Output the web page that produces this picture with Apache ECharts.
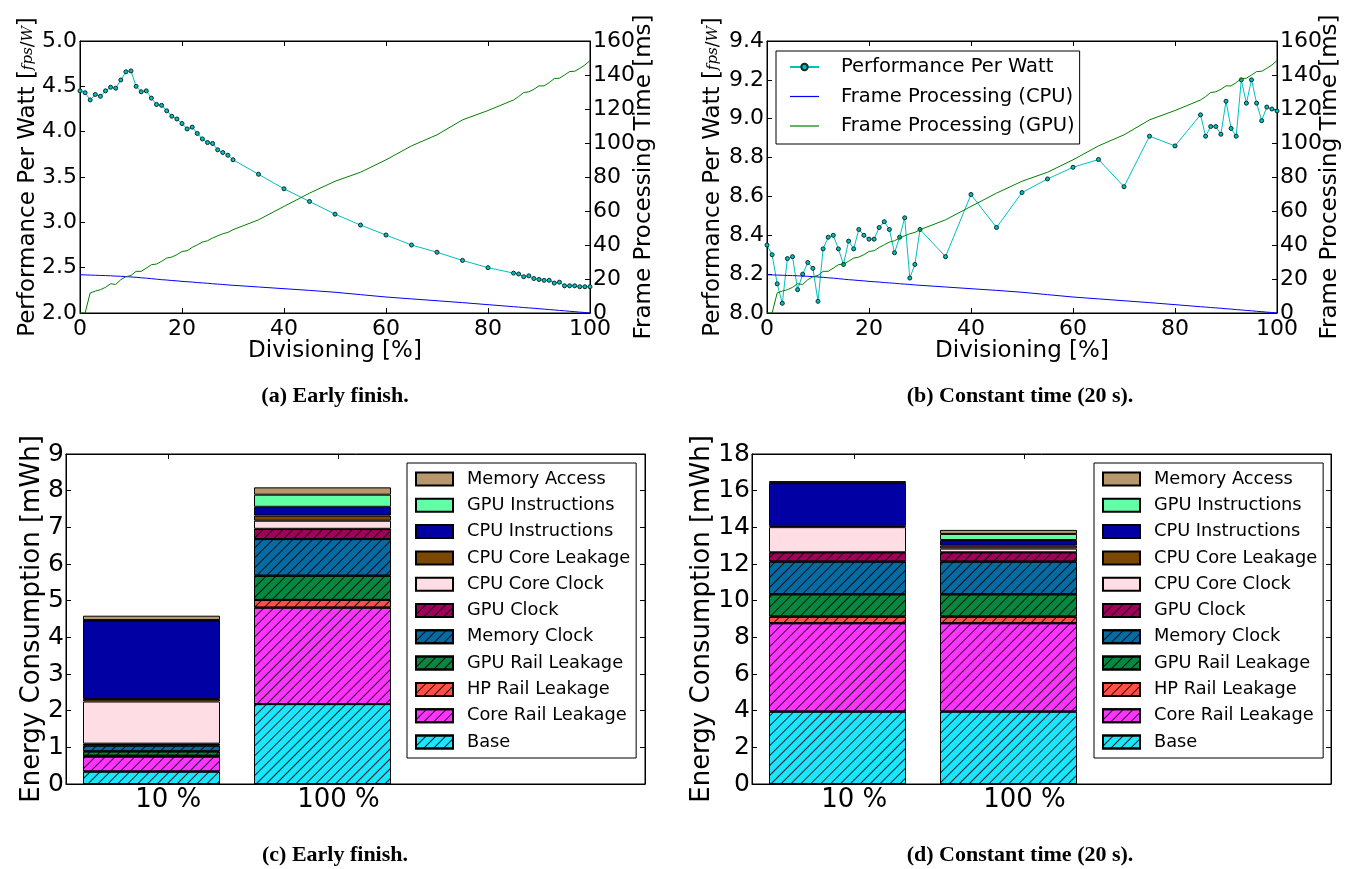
<!DOCTYPE html>
<html>
<head>
<meta charset="utf-8">
<script src="https://cdn.jsdelivr.net/npm/echarts@6/dist/echarts.min.js"></script>
<style>
  html, body { margin: 0; padding: 0; background: #fff; }
  #chart { width: 1346px; height: 869px; }
</style>
</head>
<body>
<div id="chart"></div>
<script>
// ---- measured data -------------------------------------------------------
// Divisioning steps [%] used by every run
const divisioning = [0, 1, 2, 3, 4, 5, 6, 7, 8, 9, 10, 11, 12, 13, 14, 15, 16, 17, 18, 19, 20,
  21, 22, 23, 24, 25, 26, 27, 28, 29, 30, 35, 40, 45, 50, 55, 60, 65, 70, 75, 80,
  85, 86, 87, 88, 89, 90, 91, 92, 93, 94, 95, 96, 97, 98, 99, 100];

// Performance per watt [fps/W], early-finish runs
const perfEarlyFinish = [4.45, 4.43, 4.35, 4.41, 4.39, 4.45, 4.49, 4.48, 4.57, 4.66, 4.67,
  4.50, 4.44, 4.45, 4.37, 4.30, 4.29, 4.23, 4.17, 4.14, 4.09,
  4.03, 4.05, 3.98, 3.92, 3.88, 3.87, 3.80, 3.77, 3.74, 3.69,
  3.53, 3.37, 3.23, 3.09, 2.97, 2.86, 2.75, 2.67, 2.58, 2.50,
  2.44, 2.43, 2.40, 2.41, 2.38, 2.37, 2.36, 2.36, 2.33, 2.34, 2.30, 2.30, 2.30, 2.29, 2.29, 2.29];

// Performance per watt [fps/W], constant-time (20 s) runs
const perfConstantTime = [8.35, 8.30, 8.15, 8.05, 8.28, 8.29, 8.12, 8.20, 8.26, 8.23, 8.06,
  8.33, 8.39, 8.40, 8.33, 8.25, 8.37, 8.33, 8.43, 8.40, 8.38,
  8.38, 8.44, 8.47, 8.43, 8.31, 8.39, 8.49, 8.18, 8.25, 8.43,
  8.29, 8.61, 8.44, 8.62, 8.69, 8.75, 8.79, 8.65, 8.91, 8.86,
  9.02, 8.91, 8.96, 8.96, 8.92, 9.09, 8.95, 8.91, 9.20, 9.08, 9.20, 9.08, 8.99, 9.06, 9.05, 9.04];

// Frame processing time on the CPU [ms]
const frameCpuMs = [22.5, 22.4, 22.3, 22.2, 22.1, 22.0, 21.9, 21.7, 21.6, 21.4, 21.2,
  21.0, 20.7, 20.5, 20.2, 19.9, 19.6, 19.4, 19.1, 18.9, 18.6,
  18.4, 18.2, 17.9, 17.7, 17.5, 17.2, 17.0, 16.8, 16.5, 16.3,
  15.3, 14.3, 13.3, 12.2, 10.8, 9.4, 8.3, 7.2, 6.1, 4.9,
  3.7, 3.5, 3.2, 3.0, 2.8, 2.5, 2.3, 2.0, 1.8, 1.5, 1.3, 1.0, 0.8, 0.5, 0.3, 0.0];

// Frame processing time on the GPU [ms]
const frameGpuMs = [0.0, 0.0, 11.8, 12.9, 13.7, 15.1, 17.2, 16.8, 19.6, 21.3, 22.1,
  24.5, 24.5, 26.4, 28.4, 28.8, 30.4, 32.3, 32.9, 34.3, 36.2,
  36.6, 38.6, 40.1, 41.7, 42.5, 44.1, 45.4, 46.6, 47.4, 49.0,
  54.8, 62.7, 70.5, 77.5, 82.8, 90.1, 98.3, 104.8, 113.6, 119.1,
  125.3, 127.3, 129.7, 130.1, 131.6, 133.6, 133.6, 135.5, 137.9, 138.1, 140.0, 142.0, 142.2, 143.9, 145.9, 148.5];

// Energy breakdown [mWh]
const barCategories = ['10 %', '100 %'];
// stacking order, bottom to top
const componentNames = ['Base', 'Core Rail Leakage', 'HP Rail Leakage', 'GPU Rail Leakage',
  'Memory Clock', 'GPU Clock', 'CPU Core Clock', 'CPU Core Leakage',
  'CPU Instructions', 'GPU Instructions', 'Memory Access'];
const earlyFinish10 = [0.34, 0.41, 0.02, 0.12, 0.16, 0.05, 1.15, 0.07, 2.14, 0.01, 0.12];
const earlyFinish100 = [2.18, 2.63, 0.21, 0.66, 1.00, 0.28, 0.22, 0.14, 0.24, 0.33, 0.20];
const constantTime10 = [3.95, 4.82, 0.36, 1.22, 1.78, 0.51, 1.37, 0.07, 2.33, 0.03, 0.08];
const constantTime100 = [3.95, 4.82, 0.36, 1.22, 1.78, 0.51, 0.20, 0.16, 0.31, 0.33, 0.22];

// ---- styling ---------------------------------------------------------------
const FONT = 'DejaVu Sans';
const componentColors = ['#1be6ff', '#ff33ff', '#ff4f47', '#07873f', '#066aa3', '#a1005a',
  '#ffdde4', '#7a4800', '#0000a3', '#63ffa6', '#b8986a'];
const componentHatched = [true, true, true, true, true, true, false, false, false, false, false];

const hatch = {
  symbol: 'rect', symbolSize: 1, color: 'rgba(0,0,0,0.85)',
  dashArrayX: [1, 0], dashArrayY: [1, 5.5], rotation: -Math.PI / 4
};

const tick = { show: true, inside: true, length: 5, lineStyle: { color: '#000', width: 1 } };
const axisLine = { show: true, onZero: false, lineStyle: { color: '#000', width: 1 } };
const noSplit = { show: false };

function pairs(xs, ys) { return xs.map((x, i) => [x, ys[i]]); }

function lineAxesX(grid) {
  return [
    { gridIndex: grid, type: 'value', min: 0, max: 100, interval: 20, position: 'bottom',
      axisLine, axisTick: tick, splitLine: noSplit,
      axisLabel: { fontSize: 22, fontFamily: FONT, color: '#000', margin: 5 },
      name: 'Divisioning [%]', nameLocation: 'middle', nameGap: 27, nameMoveOverlap: false,
      nameTextStyle: { fontSize: 23, fontFamily: FONT, color: '#000' } },
    { gridIndex: grid, type: 'value', min: 0, max: 100, interval: 20, position: 'top',
      axisLine, axisTick: tick, splitLine: noSplit, axisLabel: { show: false } }
  ];
}

function frameAxis(grid, gap) {
  return { gridIndex: grid, type: 'value', min: 0, max: 160, interval: 20, position: 'right',
    axisLine, axisTick: tick, splitLine: noSplit,
    axisLabel: { fontSize: 22, fontFamily: FONT, color: '#000', margin: 3 },
    name: 'Frame Processing Time [ms]', nameLocation: 'middle', nameGap: gap, nameMoveOverlap: false,
    nameTextStyle: { fontSize: 23, fontFamily: FONT, color: '#000' } };
}

const ppwName = 'Performance Per Watt [{f|fps}{s|/}{f|W}]';
const ppwNameStyle = { fontSize: 23, fontFamily: FONT, color: '#000',
  rich: { f: { fontSize: 15, fontStyle: 'italic', fontFamily: 'DejaVu Serif', color: '#000' },
          s: { fontSize: 17, fontFamily: FONT, color: '#000' } } };

function ppwAxis(grid, min, max, interval, gap) {
  return { gridIndex: grid, type: 'value', min, max, interval, position: 'left',
    axisLine, axisTick: tick, splitLine: noSplit,
    axisLabel: { fontSize: 22, fontFamily: FONT, color: '#000', margin: 3,
      formatter: v => v.toFixed(1) },
    name: ppwName, nameLocation: 'middle', nameGap: gap, nameMoveOverlap: false,
    nameTextStyle: ppwNameStyle };
}

// frame of an energy panel: spines, ticks and category labels
function barFrameAxesX(grid) {
  const labelAt = [0.1, 1.1];
  return [
    { gridIndex: grid, type: 'value', min: -0.5, max: 2.9, position: 'bottom',
      axisLine, splitLine: noSplit,
      axisTick: Object.assign({ customValues: labelAt }, tick),
      axisLabel: { customValues: labelAt, fontSize: 26, fontFamily: FONT, color: '#000', margin: 3,
        formatter: v => barCategories[Math.round(v - 0.1)] } },
    { gridIndex: grid, type: 'value', min: -0.5, max: 2.9, position: 'top',
      axisLine, splitLine: noSplit,
      axisTick: Object.assign({ customValues: labelAt }, tick),
      axisLabel: { show: false } }
  ];
}

function energyAxesY(grid, max, interval, gap) {
  return [
    { gridIndex: grid, type: 'value', min: 0, max, interval, position: 'left',
      axisLine, axisTick: tick, splitLine: noSplit,
      axisLabel: { fontSize: 25, fontFamily: FONT, color: '#000', margin: 2 },
      name: 'Energy Consumption [mWh]', nameLocation: 'middle', nameGap: gap, nameMoveOverlap: false,
      nameTextStyle: { fontSize: 26, fontFamily: FONT, color: '#000' } },
    { gridIndex: grid, type: 'value', min: 0, max, interval, position: 'right',
      axisLine, axisTick: tick, splitLine: noSplit, axisLabel: { show: false } }
  ];
}

function perfSeries(values, xi, yi) {
  return { type: 'line', name: 'Performance Per Watt', xAxisIndex: xi, yAxisIndex: yi,
    data: pairs(divisioning, values), symbol: 'circle', symbolSize: 4, showSymbol: true,
    lineStyle: { color: '#00bfbf', width: 1 },
    itemStyle: { color: '#00bfbf', borderColor: '#0a2a2a', borderWidth: 1 }, z: 3 };
}
function frameSeries(name, values, color, xi, yi) {
  return { type: 'line', name, xAxisIndex: xi, yAxisIndex: yi,
    data: pairs(divisioning, values), symbol: 'none', showSymbol: false,
    lineStyle: { color, width: 1 }, itemStyle: { color }, z: 4 };
}
function energySeries(values10, values100, xi, yi) {
  return componentNames.map((name, k) => ({
    type: 'bar', name, stack: 'energy' + xi, xAxisIndex: xi, yAxisIndex: yi,
    barWidth: 137,
    data: [values10[k], values100[k]],
    itemStyle: { color: componentColors[k], borderColor: '#000', borderWidth: 1,
      decal: componentHatched[k] ? hatch : null }
  }));
}

function barLegend(left) {
  return { data: componentNames.slice().reverse(), orient: 'vertical', left, top: 463,
    padding: [7, 6, 7, 8], itemWidth: 37, itemHeight: 13, itemGap: 8.3,
    borderColor: '#000', borderWidth: 1, borderRadius: 0, backgroundColor: '#fff',
    selectedMode: false, icon: 'rect',
    textStyle: { fontSize: 17.8, lineHeight: 17.2, fontFamily: FONT, color: '#000', padding: [0, 0, 0, 9] } };
}

const captionFont = 'bold 22px "Liberation Serif"';
function caption(text, x, y) {
  return { type: 'text', x, y, silent: true,
    style: { text, font: captionFont, fill: '#000', align: 'center', verticalAlign: 'middle',
      textAlign: 'center', textVerticalAlign: 'middle' } };
}

const gridBase = { show: true, borderColor: '#000', borderWidth: 1, backgroundColor: '#fff',
  containLabel: false, outerBoundsMode: 'none' };
const hiddenGrid = { show: false, containLabel: false, outerBoundsMode: 'none' };

const thinLine = 'path://M0,0H29V1.2H0Z';

const option = {
  animation: false,
  textStyle: { fontFamily: FONT },
  grid: [
    Object.assign({ left: 80, top: 41, width: 510, height: 272 }, gridBase),
    Object.assign({ left: 767, top: 41, width: 510, height: 272 }, gridBase),
    Object.assign({ left: 66, top: 454, width: 579, height: 330 }, gridBase),
    Object.assign({ left: 752, top: 454, width: 579, height: 330 }, gridBase),
    // bar columns: two category bands of the energy panels
    Object.assign({ left: 66, top: 454, width: 342, height: 330 }, hiddenGrid),
    Object.assign({ left: 752, top: 454, width: 342, height: 330 }, hiddenGrid)
  ],
  xAxis: [].concat(
    lineAxesX(0), lineAxesX(1), barFrameAxesX(2), barFrameAxesX(3),
    [{ gridIndex: 4, type: 'category', data: barCategories, show: false },
     { gridIndex: 5, type: 'category', data: barCategories, show: false }]
  ),
  yAxis: [
    ppwAxis(0, 2, 5, 0.5, 40),
    frameAxis(0, 43),
    ppwAxis(1, 8, 9.4, 0.2, 42),
    frameAxis(1, 42),
    ...energyAxesY(2, 9, 1, 21),
    ...energyAxesY(3, 18, 2, 37),
    { gridIndex: 4, type: 'value', min: 0, max: 9, interval: 1, show: false },
    { gridIndex: 5, type: 'value', min: 0, max: 18, interval: 2, show: false }
  ],
  legend: [
    { data: [
        { name: 'Performance Per Watt' },
        { name: 'Frame Processing (CPU)', icon: thinLine },
        { name: 'Frame Processing (GPU)', icon: thinLine }
      ],
      orient: 'vertical', left: 776, top: 51, padding: [6, 5, 8, 13],
      itemWidth: 29, itemHeight: 8, itemGap: 9.5,
      borderColor: '#000', borderWidth: 1, borderRadius: 0, backgroundColor: '#fff',
      selectedMode: false,
      textStyle: { fontSize: 19.5, lineHeight: 19.5, fontFamily: FONT, color: '#000', padding: [0, 0, 0, 17] } },
    barLegend(407),
    barLegend(1094)
  ],
  series: [
    perfSeries(perfEarlyFinish, 0, 0),
    frameSeries('Frame Processing (CPU)', frameCpuMs, '#0000ff', 0, 1),
    frameSeries('Frame Processing (GPU)', frameGpuMs, '#008000', 0, 1),
    perfSeries(perfConstantTime, 2, 2),
    frameSeries('Frame Processing (CPU)', frameCpuMs, '#0000ff', 2, 3),
    frameSeries('Frame Processing (GPU)', frameGpuMs, '#008000', 2, 3),
    ...energySeries(earlyFinish10, earlyFinish100, 8, 8),
    ...energySeries(constantTime10, constantTime100, 9, 9)
  ],
  graphic: [
    caption('(a) Early finish.', 335, 396),
    caption('(b) Constant time (20 s).', 1020, 396),
    caption('(c) Early finish.', 335, 855),
    caption('(d) Constant time (20 s).', 1020, 855)
  ]
};

const chart = echarts.init(document.getElementById('chart'), null, { renderer: 'canvas' });
chart.setOption(option);
</script>
</body>
</html>
